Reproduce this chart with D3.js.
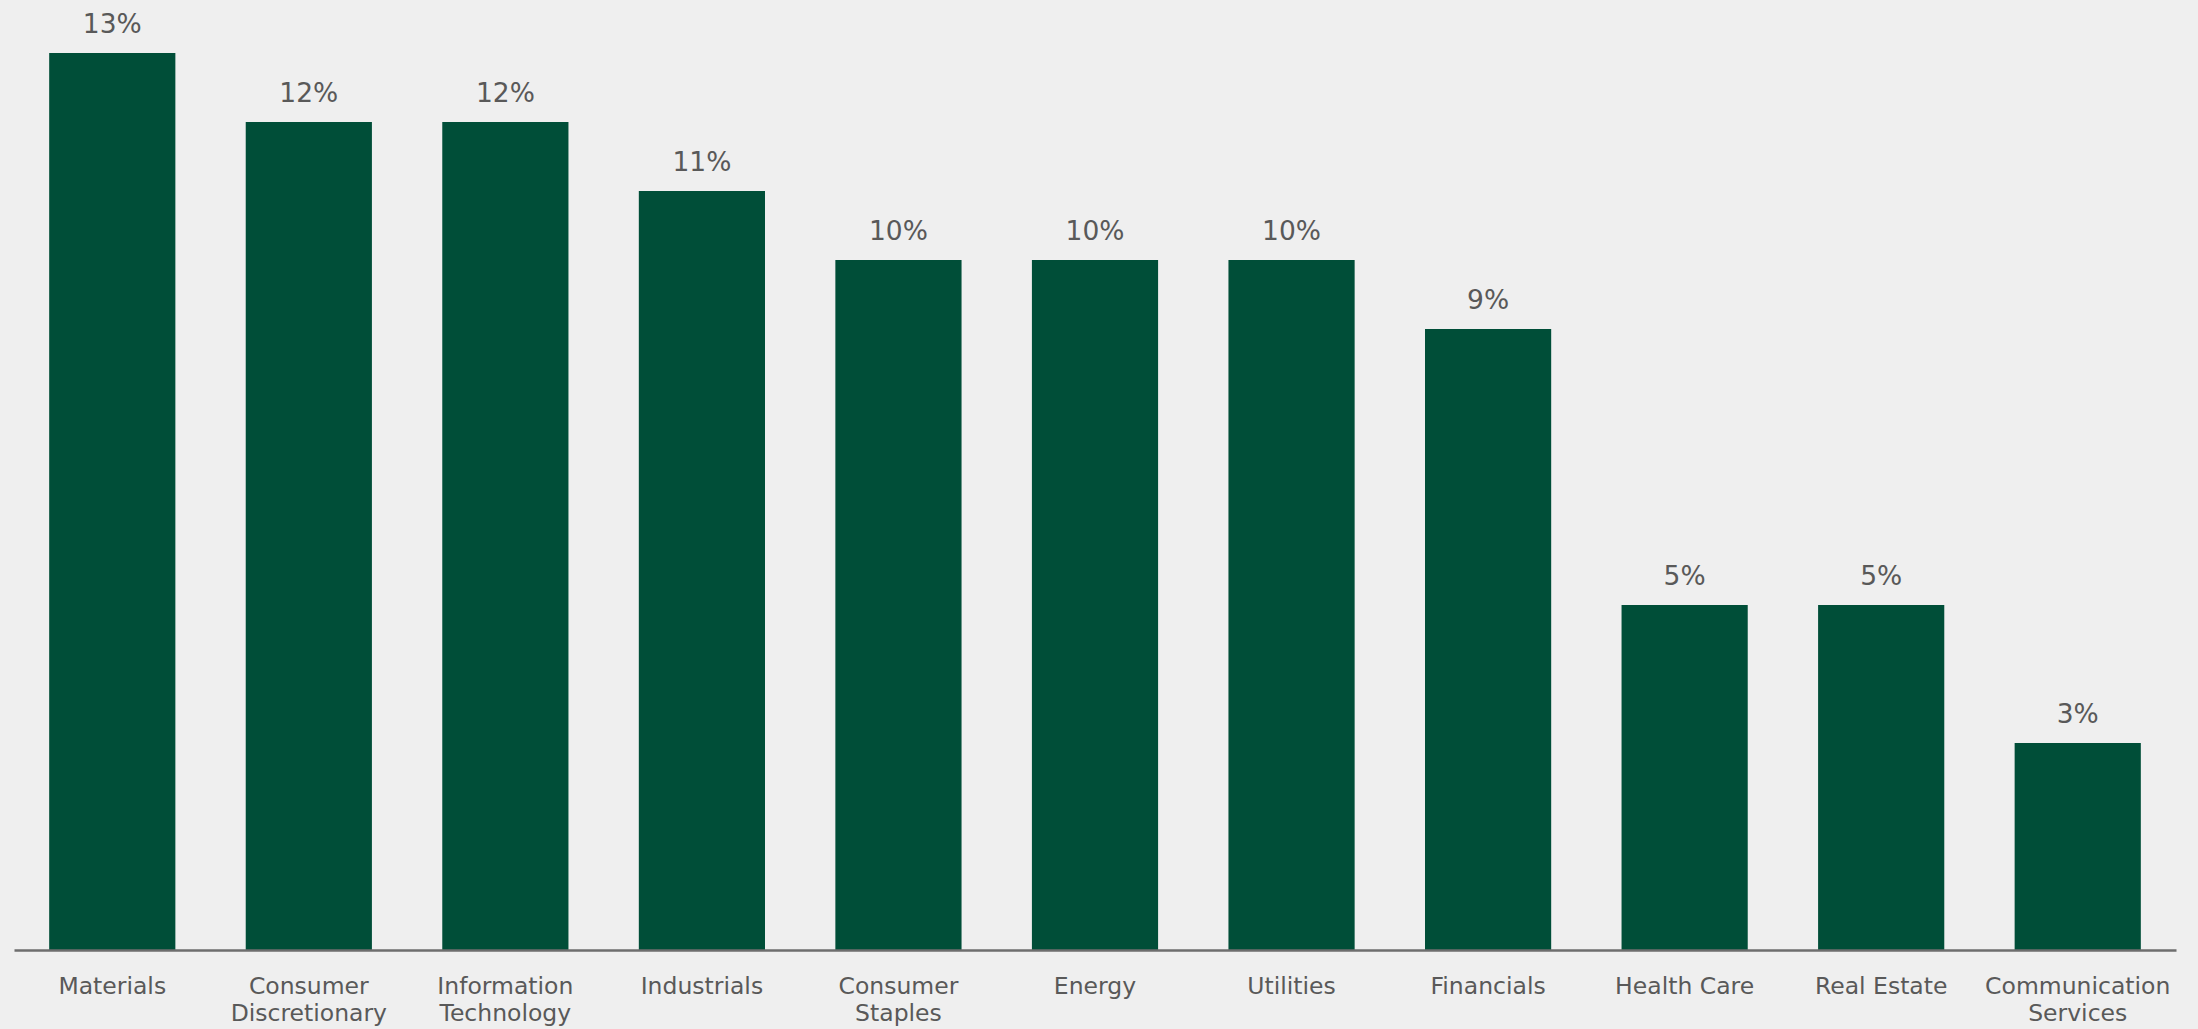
<!DOCTYPE html>
<html>
<head>
<meta charset="utf-8">
<script src="https://cdn.jsdelivr.net/npm/d3@7"></script>
<style>
  html, body { margin: 0; padding: 0; background: #efefef; }
  svg { display: block; }
</style>
</head>
<body>
<svg id="chart" width="2198" height="1029"></svg>
<script>
const categories = ["Materials", "Consumer Discretionary", "Information Technology", "Industrials",
  "Consumer Staples", "Energy", "Utilities", "Financials", "Health Care", "Real Estate", "Communication Services"];
const tickLabels = ["Materials", "Consumer\nDiscretionary", "Information\nTechnology", "Industrials",
  "Consumer\nStaples", "Energy", "Utilities", "Financials", "Health Care", "Real Estate", "Communication\nServices"];
const values = [13, 12, 12, 11, 10, 10, 10, 9, 5, 5, 3];
const valueLabels = ["13%", "12%", "12%", "11%", "10%", "10%", "10%", "9%", "5%", "5%", "3%"];

const svg = d3.select("#chart");
const W = 2198, H = 1029;
svg.append("rect").attr("width", W).attr("height", H).attr("fill", "#efefef");

const x = d3.scaleBand().domain(categories).range([14, 2176]).paddingInner(0.358).paddingOuter(0.179);
const y = d3.scaleLinear().domain([0, 13]).range([950, 53]);

const font = "'DejaVu Sans', sans-serif";

svg.append("g").selectAll("rect").data(categories).join("rect")
  .attr("x", d => x(d))
  .attr("y", (d, i) => y(values[i]))
  .attr("width", x.bandwidth())
  .attr("height", (d, i) => y(0) - y(values[i]))
  .attr("fill", "#004e38");

svg.append("g").selectAll("text").data(categories).join("text")
  .attr("x", d => x(d) + x.bandwidth() / 2)
  .attr("y", (d, i) => y(values[i]) - 20)
  .attr("text-anchor", "middle")
  .attr("font-family", font)
  .attr("font-size", 26.5)
  .attr("fill", "#595959")
  .text((d, i) => valueLabels[i]);

const axis = d3.axisBottom(x).tickSize(0).tickSizeOuter(0).tickFormat("");
const gx = svg.append("g").attr("transform", `translate(0,${y(0)})`).call(axis);
gx.select(".domain").attr("stroke", "#6e6e6e").attr("stroke-width", 2.5);
gx.selectAll(".tick text").remove();
gx.selectAll(".tick").each(function(d, i) {
  const g = d3.select(this);
  tickLabels[i].split("\n").forEach((line, j) => {
    g.append("text")
      .attr("text-anchor", "middle")
      .attr("font-family", font)
      .attr("font-size", 23.5)
      .attr("fill", "#595959")
      .attr("y", 44 + j * 27)
      .text(line);
  });
});
</script>
</body>
</html>
